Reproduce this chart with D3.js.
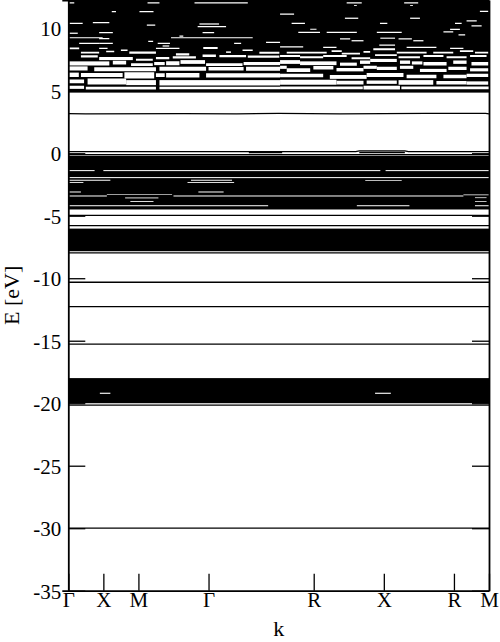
<!DOCTYPE html>
<html><head><meta charset="utf-8">
<script src="https://cdn.jsdelivr.net/npm/d3@7"></script>
<style>
html,body{margin:0;padding:0;background:#fff;}
svg{display:block;}
.axis text{font-family:"Liberation Serif","Times New Roman",serif;font-size:21px;fill:#000;}
</style>
</head><body>
<svg id="chart" width="500" height="642"></svg>
<script>
// ---- data ----
const kPoints = [0, 1, 2, 4, 7, 9, 11, 12];
const kLabels = ["Γ", "X", "M", "Γ", "R", "X", "R", "M"];
const energyTicks = [-35, -30, -25, -20, -15, -10, -5, 0, 5, 10];
const energyDomain = [-35, 12.26];

// dense band manifolds (top, bottom energy in eV), spanning the whole path
const bandBundles = [
  [12.3, 4.85],
  [-0.2, -4.5],
  [-6.03, -7.84],
  [-17.99, -20.0]
];

// openings (gaps) inside the manifolds: [k start, k end, E top, E bottom]
const conductionGaps = [
  // upper conduction manifold, k 0 - 6
  [0,0.17,12.08,11.98],[2.26,2.6,12.08,11.98],[3.6,5.12,12.08,11.98],
  [1.24,1.36,11.38,11.28],[2.03,2.43,11.38,11.28],
  [0.03,0.41,10.44,10.34],[0.7,1.17,10.5,10.4],[2.24,2.48,10.3,10.2],
  [3.74,4.3,10.39,10.29],[3.69,4.5,10.18,10.08],
  [0.88,1.27,9.7,9.6],[3.83,4.16,9.7,9.6],[0.03,0.27,9.65,9.55],
  [0.03,0.98,9.28,9.2],[2.93,5.26,9.28,9.2],[3.17,3.28,9.42,9.32],
  [0.88,1.17,9.22,9.12],[2.28,2.42,9.0,8.9],
  [0.31,0.88,8.84,8.74],[0.88,1.27,8.84,8.74],[2.55,2.9,8.84,8.74],
  [4.73,4.93,8.84,8.74],[5.64,6.04,8.92,8.82],[2.69,2.88,8.63,8.53],
  [0.03,0.31,8.46,8.32],[0.88,1.12,8.44,8.34],[3.85,4.26,8.5,8.34],[2.5,3.17,8.44,8.34],
  [0.36,0.88,8.12,7.98],[1.08,1.31,8.2,8.08],[1.5,1.69,8.3,8.18],[1.74,2.5,8.14,7.96],
  [3.07,3.45,8.0,7.82],[4.5,4.64,8.15,8.03],[4.97,5.26,8.3,8.18],[5.45,6.02,8.12,7.96],
  [0.36,0.84,7.84,7.66],[0.88,1.84,7.7,7.45],[1.93,2.41,7.56,7.4],[2.5,2.88,7.7,7.52],
  [2.98,3.64,7.76,7.58],[3.83,4.21,7.9,7.7],[4.31,5.07,7.86,7.68],[5.12,6.02,7.82,7.64],
  // upper conduction manifold, k 6 - 12
  [7.94,8.37,12.08,11.98],[9.58,9.98,12.08,11.98],[8.15,8.23,11.85,11.78],[9.75,9.83,11.85,11.78],
  [11.74,11.98,11.4,11.3],[6.04,6.44,11.18,11.08],[7.89,8.27,10.85,10.75],[9.75,10.03,10.85,10.75],
  [11.36,11.65,10.64,10.54],[6.37,6.75,10.44,10.34],[8.89,9.1,10.44,10.34],[11.03,11.22,10.44,10.34],
  [11.5,11.79,10.24,10.14],[6.9,7.08,9.96,9.88],[6.56,7.18,9.72,9.62],[7.37,8.23,9.72,9.62],
  [8.8,9.51,9.72,9.62],[10.7,10.98,9.76,9.66],[10.89,11.17,9.96,9.86],[11.13,11.32,9.52,9.42],
  [8.9,9.32,9.25,9.16],[7.75,8.04,9.2,9.1],[8.08,8.42,9.05,8.95],[9.42,9.8,9.2,9.1],
  [9.84,10.13,9.05,8.95],[8.87,9.32,8.7,8.6],[6.04,6.7,8.56,8.46],[7.27,7.65,8.52,8.42],
  [9.65,10.5,8.52,8.42],[10.89,11.27,8.44,8.34],
  [6.23,7.37,8.12,7.98],[7.51,7.8,8.24,8.1],[7.8,8.32,8.04,7.9],[8.42,8.61,8.18,8.04],
  [8.7,9.32,8.4,8.24],[9.37,10.22,8.12,7.98],[10.41,10.98,8.12,7.98],[11.17,11.55,8.24,8.1],
  [11.6,11.98,8.12,7.98],
  [6.04,6.61,7.86,7.7],[6.61,7.27,7.76,7.6],[7.27,7.94,7.86,7.7],[8.08,8.61,7.68,7.52],
  [8.75,9.37,7.92,7.78],[9.42,10.03,7.76,7.6],[10.13,10.7,7.86,7.7],
  [10.79,11.36,7.76,7.6],[11.46,11.93,7.86,7.7],
  // lower conduction region (wider openings between bands), k 0 - 6
  [0,1.17,7.35,7.02],[1.27,1.65,7.4,7.1],[1.79,2.41,7.2,6.98],[2.45,2.75,7.3,7.05],
  [2.79,3.17,7.36,7.04],[3.2,3.9,7.45,7.15],[3.93,4.97,7.2,6.98],[5.0,6.04,7.3,7.05],
  [0,0.55,6.95,6.62],[0.74,2.5,6.88,6.56],[2.6,3.93,6.92,6.6],[4.0,5.0,6.9,6.62],[5.07,6.04,6.92,6.6],
  [0,0.3,6.45,6.1],[0.36,1.55,6.42,6.1],[1.6,2.45,6.48,5.98],[2.5,2.75,6.4,6.1],
  [2.79,3.74,6.42,6.06],[3.93,6.04,6.4,6.06],
  [0,0.45,5.9,5.6],[0.55,1.65,5.98,5.5],[1.65,2.5,5.85,5.45],[2.6,6.04,5.85,5.42],
  [0,0.45,5.4,5.15],[0.5,2.5,5.32,5.1],[2.6,6.04,5.32,5.12],
  // lower conduction region, k 6 - 12
  [6.04,6.61,7.45,7.15],[6.61,7.65,7.35,7.05],[7.75,8.23,7.25,7.0],[8.32,8.61,7.42,7.15],
  [8.61,9.37,7.55,7.3],[9.46,9.75,7.42,7.15],[9.8,10.1,7.35,7.1],[10.13,10.79,7.3,7.02],
  [10.98,11.36,7.42,7.15],[11.5,11.98,7.3,7.02],
  [6.04,6.23,7.0,6.75],[6.23,6.9,6.8,6.5],[6.99,7.56,6.98,6.7],[7.65,8.42,6.82,6.55],
  [8.42,8.8,7.0,6.75],[8.8,9.37,6.92,6.66],[9.46,9.84,7.0,6.75],[10.03,10.79,6.75,6.5],
  [10.84,11.36,6.92,6.66],[11.46,11.98,6.8,6.55],
  [6.04,7.27,6.36,6.08],[7.46,8.51,6.26,5.95],[8.51,9.56,6.42,6.1],[9.65,10.5,6.28,6.0],
  [10.7,11.36,6.28,6.0],[11.36,11.98,6.36,6.1],
  [6.04,7.65,5.88,5.48],[7.65,8.42,5.8,5.5],[8.51,9.37,5.82,5.55],[9.42,10.41,5.85,5.48],
  [10.5,11.36,5.78,5.5],[11.36,11.98,5.75,5.48],
  [6.04,8.4,5.34,5.12],[8.42,9.46,5.4,5.1],[9.5,12,5.34,5.12]
];

const valenceGaps = [
  [0,0.75,-1.35,-1.43],[1.0,8.9,-1.35,-1.43],[9.05,12,-1.35,-1.43],
  [0,12,-1.91,-1.99],
  [0,1.2,-2.12,-2.2],[3.5,4.67,-2.12,-2.2],[8.47,9.51,-2.14,-2.2],
  [0,0.43,-2.3,-2.37],[3.4,4.73,-2.3,-2.37],
  [0,0.36,-3.06,-3.14],[3.71,4.43,-3.06,-3.14],
  [0,1.1,-3.38,-3.46],[1.1,2.96,-3.29,-3.34],[3.0,11.27,-3.38,-3.46],[11.27,12,-3.3,-3.36],
  [1.62,2.57,-3.54,-3.61],[1.77,2.43,-3.82,-3.89],
  [11.6,11.93,-3.53,-3.59],[11.6,11.93,-3.84,-3.9],
  [0,5.7,-4.16,-4.24],[8.23,9.73,-4.16,-4.24],[11.6,12,-4.16,-4.24],
  [0.9,1.2,-19.16,-19.25],[8.75,9.2,-19.16,-19.25]
];

// individual bands: lists of [k, E] points along the path
const bands = [
  [[0,4.95],[12,4.95]],
  [[0,3.17],[0.5,3.15],[3.3,3.17],[4.8,3.15],[6,3.19],[7.75,3.15],[10.2,3.19],[11.9,3.19],[12,3.15]],
  [[0,0.13],[8.2,0.13],[8.3,0.19],[9.6,0.19],[9.7,0.13],[12,0.13]],
  [[5.15,0.06],[6.1,0.06]],
  [[8.3,0.06],[9.6,0.06]],
  [[0,-0.11],[12,-0.11]],
  [[0,-4.97],[12,-4.97]],
  [[0,-5.79],[12,-5.79]],
  [[0,-7.97],[12,-7.97]],
  [[0,-10.32],[12,-10.32]],
  [[0,-12.28],[12,-12.28]],
  [[0,-15.27],[12,-15.27]],
  [[0,-20.15],[12,-20.15]],
  [[0,-30.0],[12,-30.0]]
];

// ---- drawing ----
const W = 500, H = 642;
const plot = {left: 68.3, right: 489, top: 0, bottom: 590.7};
const svg = d3.select("#chart");
const x = d3.scaleLinear().domain([0, 12]).range([plot.left, plot.right]);
const y = d3.scaleLinear().domain(energyDomain).range([plot.bottom, plot.top]);

svg.append("rect").attr("width", W).attr("height", H).attr("fill", "#fff");

svg.append("clipPath").attr("id", "clip").append("rect")
  .attr("x", plot.left).attr("y", plot.top)
  .attr("width", plot.right - plot.left).attr("height", plot.bottom - plot.top);

const g = svg.append("g").attr("clip-path", "url(#clip)");

g.selectAll("rect.bundle").data(bandBundles).join("rect").attr("class", "bundle")
  .attr("x", x(0)).attr("width", x(12) - x(0))
  .attr("y", d => y(d[0])).attr("height", d => y(d[1]) - y(d[0]))
  .attr("fill", "#000");

g.selectAll("rect.gap").data(conductionGaps.concat(valenceGaps)).join("rect").attr("class", "gap")
  .attr("x", d => x(d[0])).attr("width", d => x(d[1]) - x(d[0]))
  .attr("y", d => y(d[2])).attr("height", d => y(d[3]) - y(d[2]))
  .attr("fill", "#fff");

const bandLine = d3.line().x(d => x(d[0])).y(d => y(d[1]));
g.selectAll("path.band").data(bands).join("path").attr("class", "band")
  .attr("d", bandLine).attr("fill", "none").attr("stroke", "#000").attr("stroke-width", 1.3);

// axes
const fmt = d => String(d);
const axLeft = svg.append("g").attr("class", "axis").attr("transform", `translate(${plot.left},0)`)
  .call(d3.axisLeft(y).tickValues(energyTicks).tickFormat(fmt).tickSizeInner(-17).tickSizeOuter(6).tickPadding(7));
svg.append("g").attr("class", "axis").attr("transform", `translate(${plot.right},0)`)
  .call(d3.axisRight(y).tickValues(energyTicks).tickFormat("").tickSizeInner(-17).tickSizeOuter(0));
svg.append("g").attr("class", "axis").attr("transform", `translate(0,${plot.bottom})`)
  .call(d3.axisBottom(x).tickValues(kPoints).tickFormat((d, i) => kLabels[i]).tickSizeInner(-17).tickSizeOuter(0).tickPadding(1));
svg.append("g").attr("class", "axis").attr("transform", `translate(0,${plot.top})`)
  .call(d3.axisTop(x).tickValues(kPoints).tickFormat("").tickSizeInner(0).tickSizeOuter(0));

svg.selectAll(".axis path.domain").attr("stroke", "#000").attr("stroke-width", 1.8);
svg.selectAll(".axis .tick line").attr("stroke", "#000").attr("stroke-width", 1.3);
axLeft.selectAll("text").attr("dy", "0.35em");

svg.append("text")
  .attr("transform", `translate(18.5,${(plot.top + plot.bottom) / 2}) rotate(-90)`)
  .attr("text-anchor", "middle")
  .style("font-family", '"Liberation Serif","Times New Roman",serif').style("font-size", "22px")
  .text("E [eV]");

svg.append("text")
  .attr("x", (plot.left + plot.right) / 2).attr("y", 636)
  .attr("text-anchor", "middle")
  .style("font-family", '"Liberation Serif","Times New Roman",serif').style("font-size", "22px")
  .text("k");
</script>
</body></html>
